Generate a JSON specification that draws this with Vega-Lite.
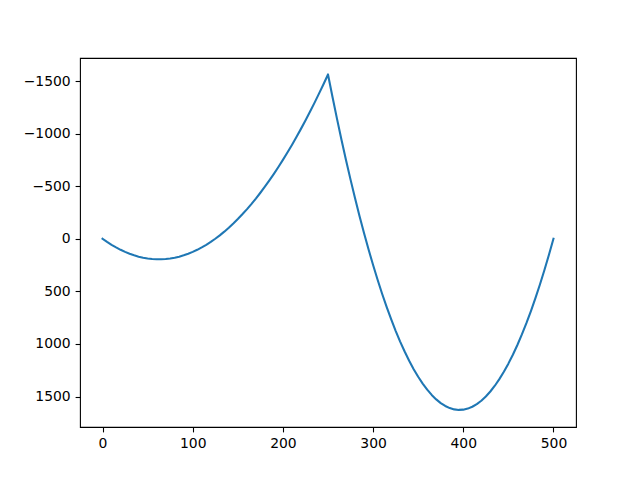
{
  "$schema": "https://vega.github.io/schema/vega-lite/v6.json",
  "autosize": {"type": "none"},
  "padding": {"left": 80, "top": 58, "right": 64, "bottom": 53},
  "width": 496,
  "height": 369,
  "background": "white",
  "config": {
    "view": {"stroke": "black", "strokeWidth": 1.1},
    "axis": {
      "grid": false,
      "domain": false,
      "tickColor": "black",
      "tickWidth": 1.1,
      "tickSize": 4.9,
      "labelFont": "DejaVu Sans",
      "labelFontSize": 13.9,
      "labelColor": "black",
      "labelPadding": 4.9,
      "format": "d",
      "title": null
    }
  },
  "data": {
    "values": [
      {"x": 0, "y": 0},
      {"x": 5, "y": 30},
      {"x": 10, "y": 57.5},
      {"x": 15, "y": 82.5},
      {"x": 20, "y": 105},
      {"x": 25, "y": 125},
      {"x": 30, "y": 142.5},
      {"x": 35, "y": 157.5},
      {"x": 40, "y": 170},
      {"x": 45, "y": 180},
      {"x": 50, "y": 187.5},
      {"x": 55, "y": 192.5},
      {"x": 60, "y": 195},
      {"x": 65, "y": 195},
      {"x": 70, "y": 192.5},
      {"x": 75, "y": 187.5},
      {"x": 80, "y": 180},
      {"x": 85, "y": 170},
      {"x": 90, "y": 157.5},
      {"x": 95, "y": 142.5},
      {"x": 100, "y": 125},
      {"x": 105, "y": 105},
      {"x": 110, "y": 82.5},
      {"x": 115, "y": 57.5},
      {"x": 120, "y": 30},
      {"x": 125, "y": 0},
      {"x": 130, "y": -32.5},
      {"x": 135, "y": -67.5},
      {"x": 140, "y": -105},
      {"x": 145, "y": -145},
      {"x": 150, "y": -187.5},
      {"x": 155, "y": -232.5},
      {"x": 160, "y": -280},
      {"x": 165, "y": -330},
      {"x": 170, "y": -382.5},
      {"x": 175, "y": -437.5},
      {"x": 180, "y": -495},
      {"x": 185, "y": -555},
      {"x": 190, "y": -617.5},
      {"x": 195, "y": -682.5},
      {"x": 200, "y": -750},
      {"x": 205, "y": -820},
      {"x": 210, "y": -892.5},
      {"x": 215, "y": -967.5},
      {"x": 220, "y": -1045},
      {"x": 225, "y": -1125},
      {"x": 230, "y": -1207.5},
      {"x": 235, "y": -1292.5},
      {"x": 240, "y": -1380},
      {"x": 245, "y": -1470},
      {"x": 250, "y": -1562.5},
      {"x": 255, "y": -1347.5},
      {"x": 260, "y": -1140},
      {"x": 265, "y": -940},
      {"x": 270, "y": -747.5},
      {"x": 275, "y": -562.5},
      {"x": 280, "y": -385},
      {"x": 285, "y": -215},
      {"x": 290, "y": -52.5},
      {"x": 295, "y": 102.5},
      {"x": 300, "y": 250},
      {"x": 305, "y": 390},
      {"x": 310, "y": 522.5},
      {"x": 315, "y": 647.5},
      {"x": 320, "y": 765},
      {"x": 325, "y": 875},
      {"x": 330, "y": 977.5},
      {"x": 335, "y": 1072.5},
      {"x": 340, "y": 1160},
      {"x": 345, "y": 1240},
      {"x": 350, "y": 1312.5},
      {"x": 355, "y": 1377.5},
      {"x": 360, "y": 1435},
      {"x": 365, "y": 1485},
      {"x": 370, "y": 1527.5},
      {"x": 375, "y": 1562.5},
      {"x": 380, "y": 1590},
      {"x": 385, "y": 1610},
      {"x": 390, "y": 1622.5},
      {"x": 395, "y": 1627.5},
      {"x": 400, "y": 1625},
      {"x": 405, "y": 1615},
      {"x": 410, "y": 1597.5},
      {"x": 415, "y": 1572.5},
      {"x": 420, "y": 1540},
      {"x": 425, "y": 1500},
      {"x": 430, "y": 1452.5},
      {"x": 435, "y": 1397.5},
      {"x": 440, "y": 1335},
      {"x": 445, "y": 1265},
      {"x": 450, "y": 1187.5},
      {"x": 455, "y": 1102.5},
      {"x": 460, "y": 1010},
      {"x": 465, "y": 910},
      {"x": 470, "y": 802.5},
      {"x": 475, "y": 687.5},
      {"x": 480, "y": 565},
      {"x": 485, "y": 435},
      {"x": 490, "y": 297.5},
      {"x": 495, "y": 152.5},
      {"x": 500, "y": 0}
    ]
  },
  "mark": {"type": "line", "color": "#1f77b4", "strokeWidth": 2.08, "strokeCap": "square", "strokeJoin": "round"},
  "encoding": {
    "x": {
      "field": "x",
      "type": "quantitative",
      "scale": {"domain": [-25, 525], "nice": false, "zero": false},
      "axis": {"values": [0, 100, 200, 300, 400, 500]}
    },
    "y": {
      "field": "y",
      "type": "quantitative",
      "scale": {"domain": [-1719, 1790], "nice": false, "zero": false, "reverse": true},
      "axis": {"values": [-1500, -1000, -500, 0, 500, 1000, 1500]}
    }
  }
}
